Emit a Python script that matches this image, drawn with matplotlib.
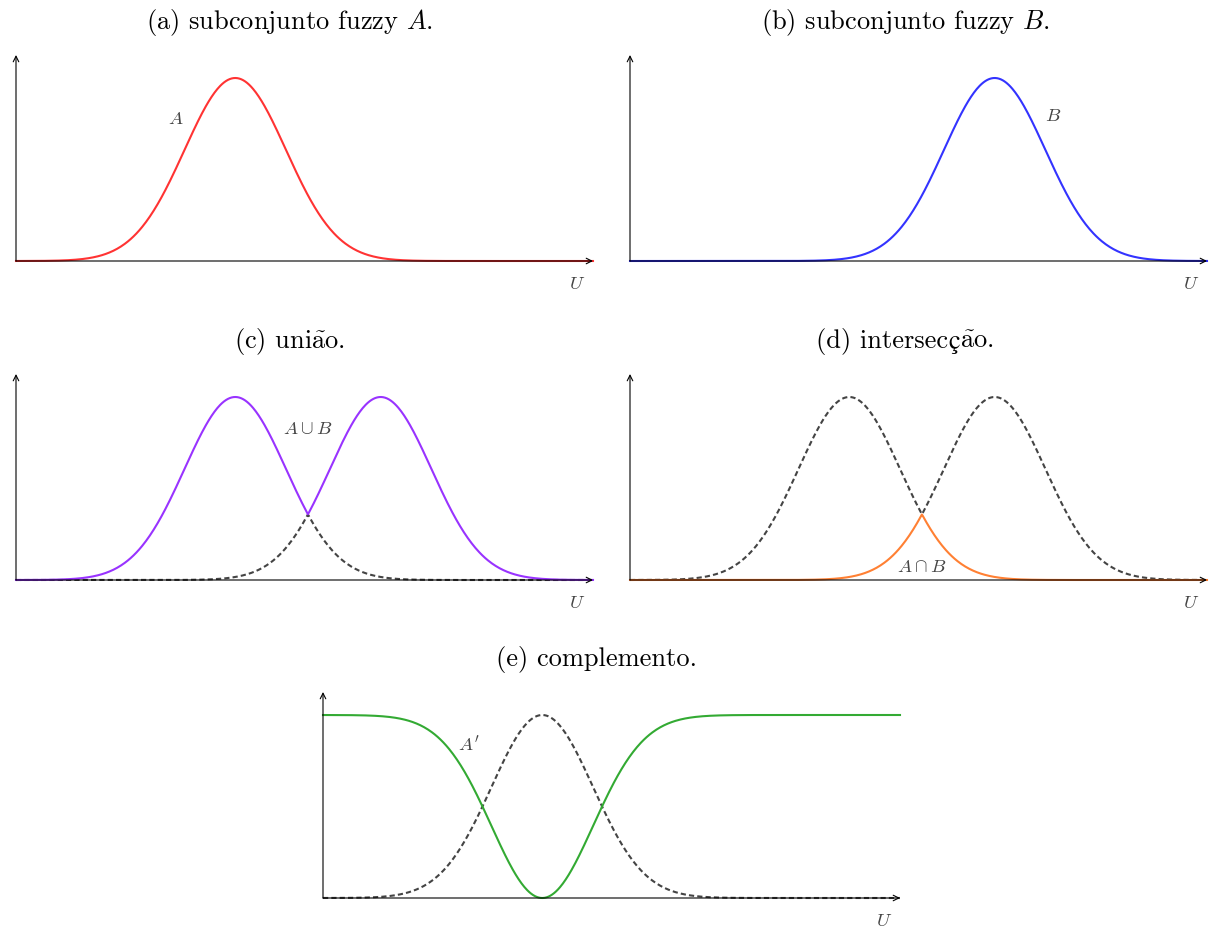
import numpy as np
import matplotlib.pyplot as plt

plt.rcParams['font.family'] = ['cmr10', 'STIXGeneral']
plt.rcParams['mathtext.fontset'] = 'cm'
plt.rcParams['axes.formatter.use_mathtext'] = True

# gaussian membership functions on the universe U = [0, 1]
centro_A = 0.38
centro_B = 0.632
largura = 0.088

titulos = ['(a) subconjunto fuzzy $A$.', '(b) subconjunto fuzzy $B$.',
           r'(c) uni$\tilde{\mathrm{a}}$o.', r'(d) intersecç$\tilde{\mathrm{a}}$o.',
           '(e) complemento.']

cor_A = '#ff3333'
cor_B = '#3333ff'
cor_uniao = '#9933ff'
cor_inter = '#ff8033'
cor_comp = '#33aa33'
cor_trac = '#444444'
cor_rot = '#444444'

u = np.linspace(0, 1, 600)
mu_A = np.exp(-(u - centro_A) ** 2 / (2 * largura ** 2))
mu_B = np.exp(-(u - centro_B) ** 2 / (2 * largura ** 2))

W, H = 1213, 929
fs_tit = 19
fig = plt.figure(figsize=(W / 100, H / 100), dpi=100)
renderer = fig.canvas.get_renderer()


def titulo_texto(xc, yb, titulo):
    # cmr10 has no ç glyph, so that letter is set in STIX between the other pieces
    partes = []
    for i, p in enumerate(titulo.split('ç')):
        if i > 0:
            partes.append(('ç', 'STIXGeneral'))
        if p:
            partes.append((p, None))
    textos = []
    for p, fam in partes:
        kw = dict(fontsize=fs_tit, ha='left', va='baseline')
        if fam:
            kw['family'] = fam
        textos.append(fig.text(0, yb / H, p, **kw))
    larguras = [t.get_window_extent(renderer).width for t in textos]
    x = xc - sum(larguras) / 2
    for t, w in zip(textos, larguras):
        t.set_x(x / W)
        x += w


def painel(x0, base, titulo, xt):
    # axis box in pixels: x0..x0+577 wide, base is the baseline row
    ax = fig.add_axes([x0 / W, (H - base - 1) / H, 577 / W, 206 / H])
    ax.set_xlim(0, 1)
    ax.set_ylim(0, 206 / 183)
    ax.axis('off')
    ax.annotate('', xy=(1, 0), xytext=(0, 0),
                arrowprops=dict(arrowstyle='->', lw=0.8, color='black',
                                shrinkA=0, shrinkB=0), annotation_clip=False)
    ax.annotate('', xy=(0, 206 / 183), xytext=(0, 0),
                arrowprops=dict(arrowstyle='->', lw=0.8, color='black',
                                shrinkA=0, shrinkB=0), annotation_clip=False)
    ax.text(0.973, -0.12, '$U$', fontsize=13.5, color=cor_rot, ha='center', va='center')
    titulo_texto(xt, H - (base - 232), titulo)
    return ax


lw = 1.5

ax = painel(16, 261, titulos[0], 290)
ax.plot(u, mu_A, color=cor_A, lw=lw, clip_on=False)
ax.text(0.277, 0.78, '$A$', fontsize=13.5, color=cor_rot, ha='center', va='center')

ax = painel(630, 261, titulos[1], 905)
ax.plot(u, mu_B, color=cor_B, lw=lw, clip_on=False)
ax.text(0.734, 0.80, '$B$', fontsize=13.5, color=cor_rot, ha='center', va='center')

ax = painel(16, 580, titulos[2], 290)
ax.plot(u, np.minimum(mu_A, mu_B), color=cor_trac, lw=lw, ls=(0, (2.5, 1.5)), clip_on=False)
ax.plot(u, np.maximum(mu_A, mu_B), color=cor_uniao, lw=lw, clip_on=False)
ax.text(0.506, 0.83, r'$A \cup B$', fontsize=13.5, color=cor_rot, ha='center', va='center')

ax = painel(630, 580, titulos[3], 905)
ax.plot(u, np.maximum(mu_A, mu_B), color=cor_trac, lw=lw, ls=(0, (2.5, 1.5)), clip_on=False)
ax.plot(u, np.minimum(mu_A, mu_B), color=cor_inter, lw=lw, clip_on=False)
ax.text(0.506, 0.075, r'$A \cap B$', fontsize=13.5, color=cor_rot, ha='center', va='center')

ax = painel(323, 898, titulos[4], 597)
ax.plot(u, mu_A, color=cor_trac, lw=lw, ls=(0, (2.5, 1.5)), clip_on=False)
ax.plot(u, 1 - mu_A, color=cor_comp, lw=lw, clip_on=False)
ax.text(0.253, 0.84, "$A'$", fontsize=13.5, color=cor_rot, ha='center', va='center')

fig.savefig('out.png', dpi=100)
plt.close()
